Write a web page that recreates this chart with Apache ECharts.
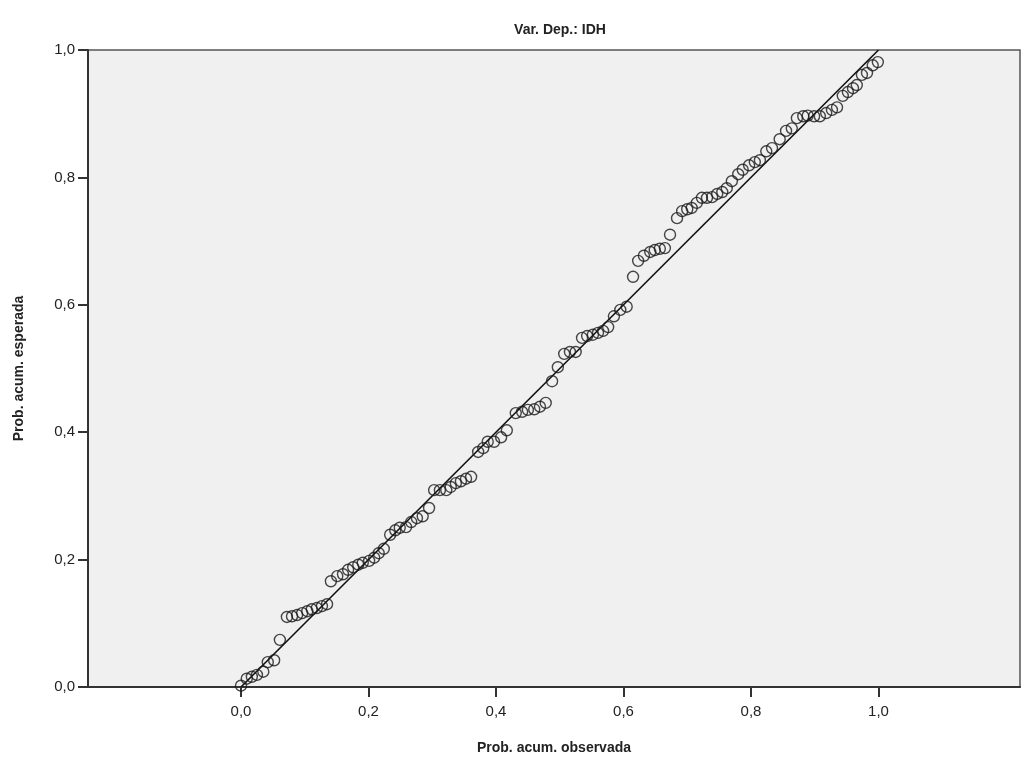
<!DOCTYPE html>
<html>
<head>
<meta charset="utf-8">
<script src="https://cdn.jsdelivr.net/npm/echarts@6/dist/echarts.min.js"></script>
<style>html,body{margin:0;padding:0;background:#fff}#c{width:1021px;height:760px}</style>
</head>
<body>
<div id="c"></div>
<script>
var titleText = 'Var. Dep.: IDH';
var xName = 'Prob. acum. observada';
var yName = 'Prob. acum. esperada';
var xTicks = [0, 0.2, 0.4, 0.6, 0.8, 1.0];
var yTicks = [0, 0.2, 0.4, 0.6, 0.8, 1.0];
var observed = [0.000,0.009,0.017,0.025,0.035,0.042,0.052,0.061,0.072,0.080,
0.088,0.096,0.104,0.111,0.119,0.127,0.135,0.141,0.151,0.160,
0.168,0.176,0.184,0.191,0.201,0.209,0.216,0.224,0.234,0.242,
0.249,0.259,0.267,0.276,0.285,0.295,0.303,0.312,0.322,0.329,
0.337,0.345,0.353,0.361,0.372,0.380,0.387,0.397,0.408,0.417,
0.431,0.441,0.450,0.460,0.469,0.478,0.488,0.497,0.507,0.516,
0.525,0.535,0.543,0.552,0.560,0.568,0.576,0.585,0.595,0.605,
0.615,0.623,0.632,0.642,0.649,0.657,0.665,0.673,0.684,0.692,
0.700,0.707,0.715,0.723,0.731,0.739,0.747,0.755,0.762,0.770,
0.780,0.787,0.797,0.806,0.814,0.824,0.833,0.845,0.855,0.864,
0.872,0.882,0.889,0.899,0.908,0.918,0.927,0.935,0.944,0.952,
0.960,0.966,0.974,0.982,0.991,0.999];
var expected = [0.002,0.013,0.016,0.019,0.024,0.039,0.042,0.074,0.110,0.111,
0.113,0.116,0.119,0.122,0.124,0.127,0.130,0.166,0.174,0.177,
0.184,0.188,0.192,0.195,0.198,0.203,0.210,0.217,0.239,0.246,
0.250,0.251,0.259,0.265,0.268,0.281,0.309,0.309,0.309,0.314,
0.320,0.323,0.327,0.330,0.369,0.375,0.385,0.385,0.392,0.403,
0.430,0.432,0.435,0.436,0.440,0.446,0.480,0.502,0.523,0.526,
0.526,0.548,0.551,0.553,0.556,0.559,0.565,0.582,0.592,0.597,
0.644,0.669,0.677,0.683,0.686,0.688,0.689,0.710,0.736,0.747,
0.750,0.752,0.760,0.768,0.768,0.769,0.774,0.777,0.783,0.794,
0.805,0.812,0.819,0.824,0.827,0.841,0.846,0.860,0.873,0.877,
0.893,0.896,0.897,0.896,0.896,0.901,0.906,0.910,0.928,0.934,
0.940,0.945,0.961,0.964,0.976,0.981];
var refLine = [[0, 0], [1, 1]];

var pts = observed.map(function (x, i) { return [x, expected[i]]; });
function fmt(v) { return Number(v).toFixed(1).replace('.', ','); }
var font = 'Liberation Sans, Arial, sans-serif';

var chart = echarts.init(document.getElementById('c'), null, { renderer: 'canvas' });
chart.setOption({
  animation: false,
  backgroundColor: '#ffffff',
  title: {
    text: titleText,
    left: 555, top: 18, textAlign: 'center',
    textStyle: { fontFamily: font, fontSize: 14, fontWeight: 'bold', color: '#222' }
  },
  grid: {
    left: 88, right: 1, top: 50, bottom: 73,
    show: true, backgroundColor: '#f0f0f0', borderColor: '#555', borderWidth: 1.5
  },
  xAxis: {
    type: 'value', min: -0.24, max: 1.222,
    name: xName, nameLocation: 'middle', nameGap: 54,
    nameTextStyle: { fontFamily: font, fontSize: 14, fontWeight: 'bold', color: '#222' },
    axisLine: { show: true, onZero: false, lineStyle: { color: '#333', width: 2 } },
    axisTick: { show: true, length: 10, customValues: xTicks, lineStyle: { color: '#333', width: 2 } },
    axisLabel: { customValues: xTicks, formatter: fmt, margin: 17,
      fontFamily: font, fontSize: 15, color: '#222' },
    splitLine: { show: false }
  },
  yAxis: {
    type: 'value', min: 0, max: 1, interval: 0.2,
    name: yName, nameLocation: 'middle', nameGap: 62,
    nameTextStyle: { fontFamily: font, fontSize: 14, fontWeight: 'bold', color: '#222' },
    axisLine: { show: true, onZero: false, lineStyle: { color: '#333', width: 2 } },
    axisTick: { show: true, length: 10, lineStyle: { color: '#333', width: 2 } },
    axisLabel: { formatter: fmt, margin: 13, fontFamily: font, fontSize: 15, color: '#222' },
    splitLine: { show: false }
  },
  series: [
    {
      type: 'line', data: refLine, symbol: 'none', silent: true,
      lineStyle: { color: '#111', width: 1.6 }, z: 3
    },
    {
      type: 'scatter', data: pts, symbol: 'circle', symbolSize: 11,
      itemStyle: { color: 'rgba(0,0,0,0)', borderColor: '#1a1a1a', borderWidth: 1.4 }, z: 4
    }
  ]
});
</script>
</body>
</html>
